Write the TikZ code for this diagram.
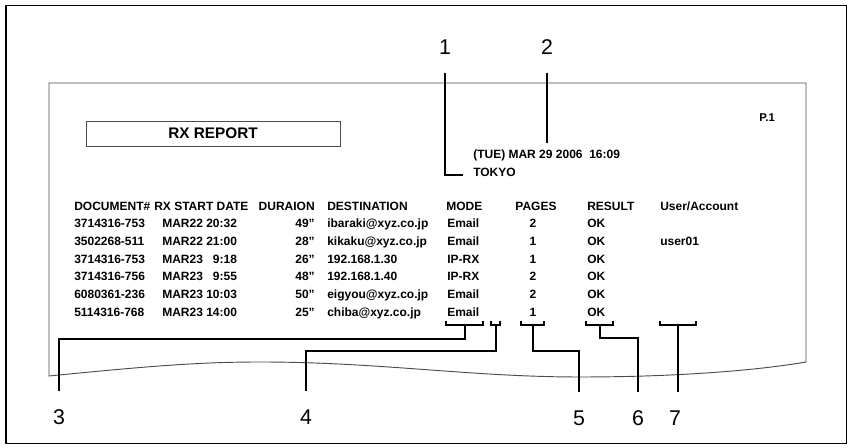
\documentclass[tikz,border=0pt]{standalone}
\usepackage{fontspec}
\setmainfont{Liberation Sans}
\usepackage{tikz}

\tikzset{
	txt/.style={font=\fontsize{9}{10}\selectfont\bfseries, anchor=west, inner sep=0pt, text height=6.4pt, text depth=0pt},
	num/.style={font=\fontsize{16}{18}\selectfont, inner sep=0pt, text height=11.5pt, text depth=0pt, outer ysep=14pt},
	lead/.style={line width=1.5pt},
	paper/.style={line width=0.7pt, black!70},
}

\begin{document}
\begin{tikzpicture}[x=0.75pt,y=-0.75pt]
		\useasboundingbox (0,0) rectangle (851,448);
		\draw[line width=1.4pt] (6,5.5) rectangle (846.5,443.5);
		
		% the sheet
		\draw[paper] (806,362) -- (806,83) -- (49,83) -- (49,376) .. controls (150,366) and (200,362) .. (260,362) .. controls (380,362) and (470,377) .. (580,377) .. controls (680,377) and (760,370) .. (806,362);
		
		\node[paper, draw, minimum width=190.5pt, minimum height=18.75pt, inner sep=0pt, text=black, font=\fontsize{11.5}{13}\selectfont\bfseries] (title) at (213,133.5) {RX REPORT};
		\node[txt, font=\fontsize{8.5}{10}\selectfont\bfseries] (page) at (759,117) {P.1};
		\node[txt] (stamp) at (473,154) {(TUE) MAR 29 2006\ \ 16:09};
		\node[txt] (city) at (473,172) {TOKYO};
		
		\node[txt] (hdoc) at (74,206) {DOCUMENT\#};
		\node[txt] (hdate) at (154,206) {RX START DATE};
		\node[txt, anchor=east] (hdur) at (315,206) {DURAION};
		\node[txt] (hdest) at (327,206) {DESTINATION};
		\node[txt] (hmode) at (446,206) {MODE};
		\node[txt, anchor=center] (hpg) at (536,206) {PAGES};
		\node[txt] (hres) at (587,206) {RESULT};
		\node[txt] (husr) at (660,206) {User/Account};
		
		\foreach \doc/\tm/\dur/\dest/\mode/\pg/\usr [count=\r] in {
			3714316-753/MAR22 20:32/49”/ibaraki@xyz.co.jp/Email/2/{},
			3502268-511/MAR22 21:00/28”/kikaku@xyz.co.jp/Email/1/user01,
			3714316-753/MAR23 \phantom{2}9:18/26”/192.168.1.30/IP-RX/1/{},
			3714316-756/MAR23 \phantom{2}9:55/48”/192.168.1.40/IP-RX/2/{},
			6080361-236/MAR23 10:03/50”/eigyou@xyz.co.jp/Email/2/{},
			5114316-768/MAR23 14:00/25”/chiba@xyz.co.jp/Email/1/{}}{
			\node[txt] (doc\r) at (74,{205.5+17.75*\r}) {\doc};
			\node[txt] (tm\r) at (162,{205.5+17.75*\r}) {\tm};
			\node[txt, anchor=east] (dur\r) at (315,{205.5+17.75*\r}) {\dur};
			\node[txt] (dest\r) at (327,{205.5+17.75*\r}) {\dest};
			\node[txt] (mode\r) at (447,{205.5+17.75*\r}) {\mode};
			\node[txt, anchor=center] (pg\r) at (533,{205.5+17.75*\r}) {\pg};
			\node[txt] (res\r) at (587,{205.5+17.75*\r}) {OK};
			\node[txt] (usr\r) at (660,{205.5+17.75*\r}) {\usr};
		}
		
		% callouts
		\node[num] (n1) at (445,47) {1};
		\node[num] (n2) at (547,47) {2};
		\node[num] (n3) at (59,417) {3};
		\node[num] (n4) at (306,417) {4};
		\node[num] (n5) at (579,418) {5};
		\node[num] (n6) at (638,418) {6};
		\node[num] (n7) at (675,418) {7};
		
		\coordinate (t1) at (463,175);
		\coordinate (t2) at (547,143);
		\draw[lead] (n1.south) |- (t1);
		\draw[lead] (n2.south) -- (t2);
		
		\foreach \a/\b/\n in {446/483/3, 491/500/4, 521/544/5, 586/613/6, 660/696/7}{
			\draw[lead] (\a,321) -- (\a,325) -- (\b,325) -- (\b,321);
			\coordinate (b\n) at ({(\a+\b)/2},325);
		}
		\draw[lead] (b3) -- ++(0,14) -| (n3.north);
		\draw[lead] (b4) -- ++(0,26) -| (n4.north);
		\draw[lead] (b5) -- ++(0,26) -| (n5.north);
		\draw[lead] (b6) -- ++(0,13) -| (n6.north);
		\draw[lead] (b7) -- (b7 |- n7.north);
	\end{tikzpicture}
\end{document}
